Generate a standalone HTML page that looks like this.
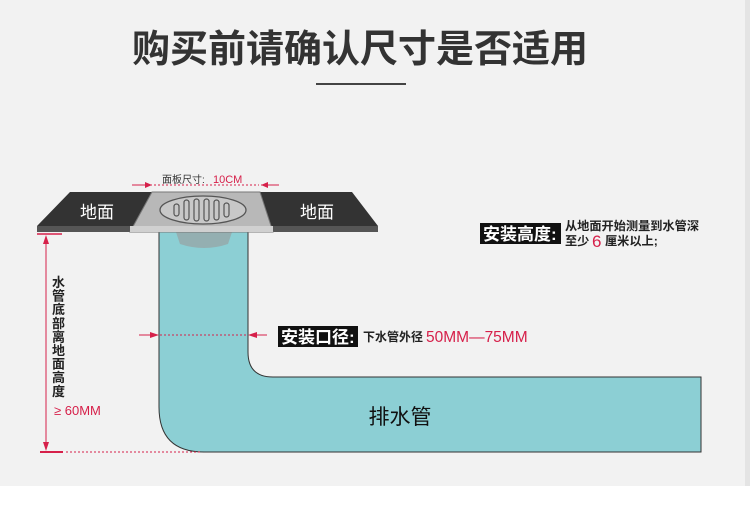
<!DOCTYPE html>
<html><head><meta charset="utf-8"><style>
body{margin:0;width:750px;height:521px;background:#fff;overflow:hidden}
svg{display:block}
text{font-family:"Liberation Sans","Noto Sans CJK SC",sans-serif}
</style></head><body>
<svg width="750" height="521" viewBox="0 0 750 521">
<rect x="0" y="0" width="745" height="486" fill="#f2f2f2"/>
<rect x="745" y="0" width="5" height="486" fill="#e4e4e4"/>
<text x="360" y="62" font-size="38" text-anchor="middle" fill="#333" font-weight="bold">购买前请确认尺寸是否适用</text>
<rect x="316" y="83" width="90" height="2" fill="#444"/>

<!-- pipe -->
<path d="M159 232 L248 232 L248 352 Q248 377 273 377 L701 377 L701 452 L204 452 Q159 452 159 407 Z" fill="#8ccfd4" stroke="#333" stroke-width="1"/>
<text x="400" y="424" font-size="21" fill="#111" text-anchor="middle">排水管</text>
<path d="M176 232 L232 232 L228 244 Q204 252 180 244 Z" fill="#9a9a9a" opacity="0.6"/>

<!-- floor plate -->
<path d="M70 192 L352 192 L378 226 L378 232 L37 232 L37 226 Z" fill="#333"/>
<rect x="37" y="226" width="341" height="6" fill="#555"/>
<path d="M152 192 L260 192 L273 232 L130 232 Z" fill="#b8b8b8" stroke="#777" stroke-width="1"/>
<rect x="130" y="226" width="143" height="6" fill="#d0d0d0"/>
<ellipse cx="203" cy="210" rx="43" ry="14" fill="#c8c8c8" stroke="#555" stroke-width="1.3"/>
<g fill="none" stroke="#555" stroke-width="1.2">
<rect x="174" y="204" width="5" height="12" rx="2.5"/>
<rect x="184" y="200" width="5" height="20" rx="2.5"/>
<rect x="194" y="199" width="5" height="22" rx="2.5"/>
<rect x="204" y="199" width="5" height="22" rx="2.5"/>
<rect x="214" y="200" width="5" height="20" rx="2.5"/>
<rect x="224" y="203" width="5" height="14" rx="2.5"/>
</g>
<text x="97" y="218" font-size="17" fill="#fff" text-anchor="middle">地面</text>
<text x="317" y="218" font-size="17" fill="#fff" text-anchor="middle">地面</text>

<!-- panel dimension -->
<text x="162" y="183" font-size="10" fill="#333">面板尺寸:</text>
<text x="213" y="183" font-size="11" fill="#d6204a">10CM</text>
<line x1="154" y1="185" x2="259" y2="185" stroke="#d6204a" stroke-width="1" stroke-dasharray="2,2"/>
<line x1="132" y1="185" x2="152" y2="185" stroke="#d6204a"/>
<path d="M152 185 l-7 -3 v6 z" fill="#d6204a"/>
<line x1="261" y1="185" x2="279" y2="185" stroke="#d6204a"/>
<path d="M261 185 l7 -3 v6 z" fill="#d6204a"/>

<!-- height dimension -->
<line x1="37" y1="234" x2="62" y2="234" stroke="#d6204a" stroke-width="1.5"/>
<line x1="46" y1="238" x2="46" y2="448" stroke="#d6204a" stroke-width="1"/>
<path d="M46 235 l-3 9 h6 z" fill="#d6204a"/>
<path d="M46 451 l-3 -9 h6 z" fill="#d6204a"/>
<line x1="40" y1="452" x2="63" y2="452" stroke="#d6204a" stroke-width="2"/>
<line x1="66" y1="452" x2="200" y2="452" stroke="#d6204a" stroke-width="1" stroke-dasharray="2,2"/>
<text font-size="13" fill="#222" font-weight="bold">
<tspan x="52" y="287">水</tspan><tspan x="52" y="300.6">管</tspan><tspan x="52" y="314.2">底</tspan><tspan x="52" y="327.8">部</tspan><tspan x="52" y="341.4">离</tspan><tspan x="52" y="355">地</tspan><tspan x="52" y="368.6">面</tspan><tspan x="52" y="382.2">高</tspan><tspan x="52" y="395.8">度</tspan></text>
<text x="54" y="415" font-size="13" fill="#d6204a">≥ 60MM</text>

<!-- width dimension -->
<line x1="139" y1="335" x2="157" y2="335" stroke="#d6204a"/>
<path d="M159 335 l-9 -3 v6 z" fill="#d6204a"/>
<line x1="160" y1="335" x2="247" y2="335" stroke="#d6204a" stroke-dasharray="2,2"/>
<line x1="250" y1="335" x2="267" y2="335" stroke="#d6204a"/>
<path d="M248 335 l9 -3 v6 z" fill="#d6204a"/>

<!-- labels -->
<rect x="278" y="326" width="80" height="21" fill="#111"/>
<text x="281" y="343" font-size="17" fill="#fff" font-weight="bold">安装口径:</text>
<text x="363" y="341" font-size="12" fill="#222" font-weight="bold">下水管外径</text>
<text x="426" y="342" font-size="15.5" fill="#d6204a">50MM—75MM</text>

<rect x="480" y="223" width="81" height="21" fill="#111"/>
<text x="483" y="240" font-size="17" fill="#fff" font-weight="bold">安装高度:</text>
<text x="565" y="230" font-size="12.2" fill="#222" font-weight="bold">从地面开始测量到水管深</text>
<text x="565" y="245" font-size="12.2" fill="#222" font-weight="bold">至少</text>
<text x="592" y="247" font-size="17" fill="#d6204a">6</text>
<text x="605" y="245" font-size="12.2" fill="#222" font-weight="bold">厘米以上;</text>
</svg>
</body></html>
